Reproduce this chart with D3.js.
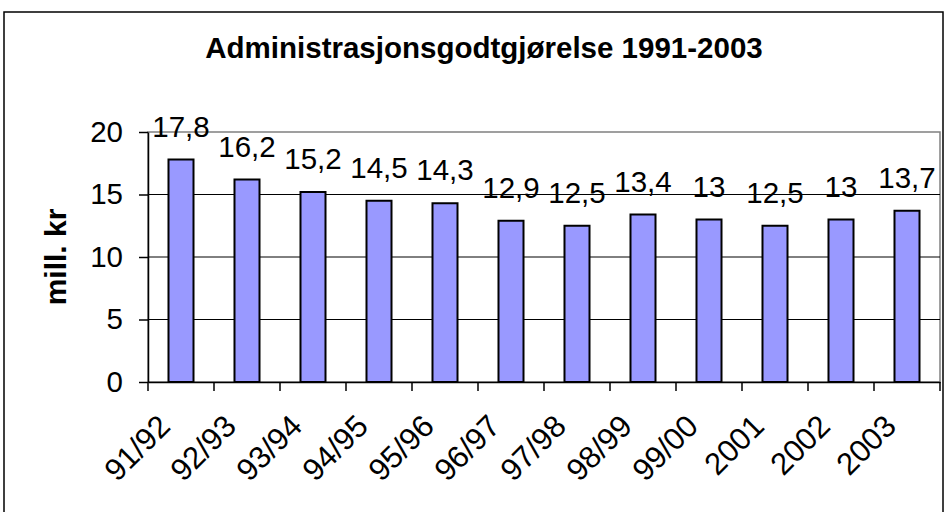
<!DOCTYPE html>
<html>
<head>
<meta charset="utf-8">
<script src="https://cdn.jsdelivr.net/npm/d3@7"></script>
<style>
  body { margin: 0; background: #fff; }
  svg text { font-family: "Liberation Sans", Arial, sans-serif; fill: #000; }
</style>
</head>
<body>
<svg id="chart" width="947" height="512"></svg>
<script>
var categories = ["91/92", "92/93", "93/94", "94/95", "95/96", "96/97", "97/98", "98/99", "99/00", "2001", "2002", "2003"];
var values = [17.8, 16.2, 15.2, 14.5, 14.3, 12.9, 12.5, 13.4, 13, 12.5, 13, 13.7];
var yTicks = [0, 5, 10, 15, 20];
var gridValues = [5, 10, 15];
var title = "Administrasjonsgodtgjørelse 1991-2003";
var yTitle = "mill. kr";

var svg = d3.select("#chart");

// plot area edges (window.top is taken, so no plain "top")
var plotL = 148, plotR = 940, plotT = 132, plotB = 382;

var x = d3.scaleBand()
    .domain(categories)
    .range([plotL, plotR])
    .paddingInner(0.621)
    .paddingOuter(0.3105);

var y = d3.scaleLinear()
    .domain([0, 20])
    .range([plotB, plotT]);

// outer frame of the chart, bottom edge runs off the picture
svg.append("rect")
    .attr("x", 4).attr("y", 12)
    .attr("width", 939).attr("height", 540)
    .attr("fill", "none")
    .attr("stroke", "#000")
    .attr("stroke-width", 1.5);

svg.append("text")
    .attr("x", 484).attr("y", 58)
    .attr("text-anchor", "middle")
    .style("font-size", "29.5px")
    .style("font-weight", "bold")
    .text(title);

// plot area box
svg.append("rect")
    .attr("x", plotL).attr("y", plotT)
    .attr("width", plotR - plotL).attr("height", plotB - plotT)
    .attr("fill", "none")
    .attr("stroke", "#808080")
    .attr("stroke-width", 1.5);

svg.selectAll(".grid")
    .data(gridValues)
    .enter().append("line")
    .attr("class", "grid")
    .attr("x1", plotL).attr("x2", plotR)
    .attr("y1", function(d){ return y(d) })
    .attr("y2", function(d){ return y(d) })
    .attr("stroke", "#000")
    .attr("stroke-width", 1);

svg.selectAll(".bar")
    .data(values)
    .enter().append("rect")
    .attr("class", "bar")
    .attr("x", function(d, i){ return x(categories[i]) })
    .attr("y", function(d){ return y(d) })
    .attr("width", x.bandwidth())
    .attr("height", function(d){ return y(0) - y(d) })
    .attr("fill", "#9999ff")
    .attr("stroke", "#000")
    .attr("stroke-width", 2);

svg.selectAll(".vlabel")
    .data(values)
    .enter().append("text")
    .attr("class", "vlabel")
    .attr("x", function(d, i){ return x(categories[i]) + x.bandwidth() / 2 })
    .attr("y", function(d){ return y(d) - 23 })
    .attr("text-anchor", "middle")
    .style("font-size", "29.5px")
    .text(function(d){ return String(d).replace(".", ",") });

// y axis
var yAxis = svg.append("g")
    .attr("transform", "translate(" + plotL + ",0)")
    .call(d3.axisLeft(y).tickValues(yTicks).tickSize(9).tickSizeOuter(0).tickPadding(16));
yAxis.select(".domain").attr("stroke", "#000").attr("stroke-width", 1.5);
yAxis.selectAll(".tick line").attr("stroke", "#000").attr("stroke-width", 1.5);
yAxis.selectAll(".tick text")
    .style("font-size", "29.5px")
    .attr("font-family", null)
    .attr("fill", "#000");

// x axis, ticks sit between the categories
var xAxis = svg.append("g")
    .attr("transform", "translate(0," + plotB + ")")
    .call(d3.axisBottom(x).tickSize(0).tickSizeOuter(0));
xAxis.select(".domain").attr("stroke", "#000").attr("stroke-width", 1.5);
xAxis.selectAll(".tick text")
    .attr("x", 0).attr("y", 0).attr("dy", 0)
    .attr("text-anchor", "end")
    .attr("transform", "translate(-9,46) rotate(-45)")
    .attr("font-family", null)
    .attr("fill", "#000")
    .style("font-size", "31px");

var gap = (x.step() - x.bandwidth()) / 2;
var bounds = categories.map(function(c){ return x(c) - gap }).concat([plotR]);
xAxis.selectAll(".bound")
    .data(bounds)
    .enter().append("line")
    .attr("class", "bound")
    .attr("x1", function(d){ return d }).attr("x2", function(d){ return d })
    .attr("y1", 0).attr("y2", 9)
    .attr("stroke", "#000")
    .attr("stroke-width", 1.5);

svg.append("text")
    .attr("transform", "translate(66," + ((plotT + plotB) / 2) + ") rotate(-90)")
    .attr("text-anchor", "middle")
    .style("font-size", "30px")
    .style("font-weight", "bold")
    .text(yTitle);
</script>
</body>
</html>
